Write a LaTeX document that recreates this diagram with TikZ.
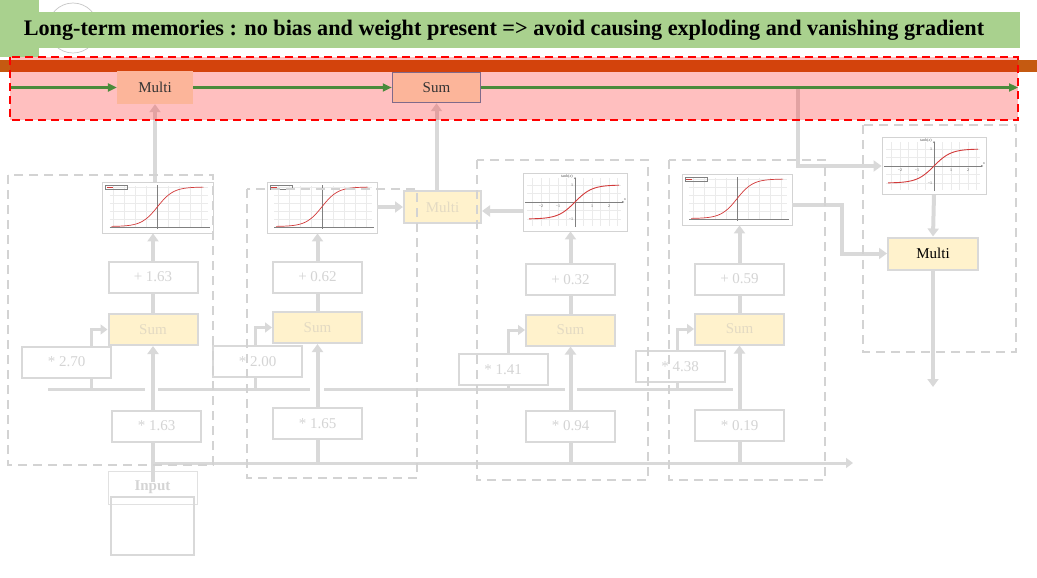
\documentclass[tikz,border=0pt]{standalone}
\usepackage{fontspec}
\setmainfont{Liberation Serif}
\usetikzlibrary{arrows.meta}
\pgfdeclarelayer{base}
\pgfdeclarelayer{pinkl}
\pgfsetlayers{base,pinkl,main}
\definecolor{titlegreen}{HTML}{A9D18E}
\definecolor{barorange}{HTML}{C55A11}
\definecolor{arrgreen}{HTML}{4A8B3C}
\definecolor{salmon}{HTML}{FCB59A}
\definecolor{sumborder}{HTML}{806A8A}
\definecolor{lgray}{HTML}{D9D9D9}
\definecolor{dgray}{HTML}{D3D3D3}
\definecolor{ltext}{HTML}{D4D4D4}
\definecolor{lyellow}{HTML}{FFF2CC}
\definecolor{ytext}{HTML}{E3DAC3}
\definecolor{curvered}{HTML}{D23A3A}
\definecolor{gridc}{HTML}{EBEBEB}
\definecolor{axisc}{HTML}{808080}

\newcommand{\sigmplot}[1]{%
\begin{scope}[shift={(#1.center)}]
 \foreach \gx in {-44,-33,-22,-11,11,22,33,44} \draw[plotgrid] (\gx,-22) -- (\gx,20);
 \foreach \gy in {-20,-12,-4,4,12} \draw[plotgrid] (-48,\gy) -- (50,\gy);
 \draw[plotaxis] (-48,20) -- (52,20);
 \draw[plotaxis] (0,21) -- (0,-23);
 \draw[curvered, line width=0.7pt] plot[domain=-46:46, samples=60, smooth] (\x,{19-39.5/(1+exp(-\x/8))});
 \draw[line width=0.3pt, draw=axisc] (-52,-22) rectangle (-30,-18);
 \draw[curvered, line width=0.5pt] (-51,-20) -- (-45,-20);
\end{scope}}

\newcommand{\tanhplot}[1]{%
\begin{scope}[shift={(#1.center)}]
 \foreach \gx in {-42.5,-34,-25.5,-17,-8.5,8.5,17,25.5,34,42.5} \draw[plotgrid] (\gx,-24) -- (\gx,24);
 \foreach \gy in {-17,-8.5,8.5,17} \draw[plotgrid] (-48,\gy) -- (46,\gy);
 \draw[plotaxis,-{Stealth[length=2pt,width=2pt]}] (-50,0) -- (49,0);
 \draw[plotaxis,-{Stealth[length=2pt,width=2pt]}] (0,25) -- (0,-25);
 \draw[curvered, line width=0.9pt] plot[domain=-46:44, samples=60, smooth] (\x,{-17*tanh(\x/17)});
 \node[tick] (#1t1) at (-34,4.5) {−2};
 \node[tick] (#1t2) at (-17,4.5) {−1};
 \node[tick] (#1t3) at (17,4.5) {1};
 \node[tick] (#1t4) at (34,4.5) {2};
 \node[tick] (#1t5) at (-3,-17) {1};
 \node[tick] (#1t6) at (-4,17) {−1};
 \node[tick] (#1t7) at (-8,-25) {tanh(\textit{x})};
 \node[tick] (#1t8) at (50,-2.5) {\textit{x}};
\end{scope}}

\begin{document}
\begin{tikzpicture}[x=1pt,y=-1pt,
  titletxt/.style={font=\fontsize{22.2}{24}\selectfont\bfseries, inner sep=0pt},
  topbox/.style={rectangle, fill=salmon, text=black!80, font=\fontsize{15}{15}\selectfont, inner sep=0pt, minimum width=76pt, minimum height=33pt},
  wbox/.style={rectangle, draw=lgray, line width=2pt, fill=white, text=ltext, font=\fontsize{15}{15}\selectfont, inner sep=0pt, minimum width=89pt, minimum height=31pt},
  sumbox/.style={wbox, fill=lyellow, text=ytext},
  plotbox/.style={rectangle, draw=dgray, line width=0.8pt, fill=white, inner sep=0pt},
  plotgrid/.style={draw=gridc, line width=0.4pt},
  plotaxis/.style={draw=axisc, line width=0.5pt},
  tick/.style={font=\fontsize{4}{4.5}\selectfont, inner sep=0pt, text=black!70},
  garrow/.style={draw=lgray, line width=4pt, -{Triangle[length=8pt,width=11pt]}},
  gline/.style={draw=lgray, line width=4pt},
  tarrow/.style={draw=lgray, line width=3pt, -{Triangle[length=7pt,width=10pt]}},
  tline/.style={draw=lgray, line width=3pt},
  dashbox/.style={draw=dgray, line width=2.5pt, dash pattern=on 9pt off 6pt},
  greenarrow/.style={draw=arrgreen, line width=2.5pt, -{Triangle[length=9pt,width=8pt]}}
]
\useasboundingbox (0,0) rectangle (1037,578);

% ---------- nodes ----------
\node[titletxt] (title) at (504,30) {Long-term memories : no bias and weight present => avoid causing exploding and vanishing gradient};

\node[topbox] (tmul) at (155,87.5) {Multi};
\node[topbox, draw=sumborder, line width=1.5pt, minimum width=88pt, minimum height=30pt] (tsum) at (436.5,87.5) {Sum};

\node[plotbox, minimum width=111pt, minimum height=51pt] (p1) at (157.5,207.5) {};
\node[plotbox, minimum width=110pt, minimum height=51pt] (p2) at (322,207.5) {};
\node[plotbox, minimum width=104pt, minimum height=58pt] (p3) at (575,202) {};
\node[plotbox, minimum width=110pt, minimum height=51pt] (p4) at (737,199.5) {};
\node[plotbox, minimum width=104pt, minimum height=57pt] (p5) at (934,166) {};
\sigmplot{p1}
\sigmplot{p2}
\tanhplot{p3}
\sigmplot{p4}
\tanhplot{p5}

\node[wbox] (a1) at (153,277) {+ 1.63};
\node[wbox] (a2) at (317.5,277) {+ 0.62};
\node[wbox] (a3) at (570.5,279.5) {+ 0.32};
\node[wbox] (a4) at (739.5,279) {+ 0.59};

\node[sumbox] (s1) at (153,329.5) {Sum};
\node[sumbox] (s2) at (317.5,327.5) {Sum};
\node[sumbox] (s3) at (570.5,330) {Sum};
\node[sumbox] (s4) at (739.5,329) {Sum};

\node[wbox] (w1) at (66.5,362) {* 2.70};
\node[wbox] (w2) at (257.5,361.5) {* 2.00};
\node[wbox] (w3) at (503,369.5) {* 1.41};
\node[wbox] (w4) at (680,366.5) {* 4.38};

\node[wbox] (i1) at (156.5,426) {* 1.63};
\node[wbox] (i2) at (317.5,423.5) {* 1.65};
\node[wbox] (i3) at (570.5,426) {* 0.94};
\node[wbox] (i4) at (739.5,425.5) {* 0.19};

\node[sumbox, minimum width=77pt, minimum height=32pt] (lmul) at (442.5,207) {Multi};
\node[sumbox, text=black, minimum width=90pt, minimum height=32pt] (rmul) at (933,253.5) {Multi};

\node[rectangle, draw=lgray!80, line width=0.8pt, text=ltext, font=\fontsize{15}{15}\selectfont\bfseries, inner sep=0pt, minimum width=89pt, minimum height=33pt] (inp) at (152.5,487.5) {Input};
\node[rectangle, draw=lgray, line width=2pt, inner sep=0pt, minimum width=83pt, minimum height=58pt] (inbox) at (152.5,526) {};

% ---------- base layer ----------
\begin{pgfonlayer}{base}
 \draw[draw=black!22, fill=white, line width=0.7pt] (73,28) circle[radius=25pt];
 \fill[titlegreen] (0,12) rectangle (1020,48);
 \fill[titlegreen] (0,0) rectangle (39,57);
 \fill[barorange] (0,60) rectangle (1037,72);
 \draw[garrow] (p1.north -| tmul) -- (tmul.south);
 \draw[garrow] (lmul.north -| tsum) -- (tsum.south);
 \coordinate (tap) at (798,87.5);
 \draw[gline] (tap) |- ([xshift=-6pt]p5.west);
 \draw[garrow] ([xshift=-8pt]p5.west) -- (p5.west);
\end{pgfonlayer}
\begin{pgfonlayer}{pinkl}
 \fill[red, opacity=0.25] (10,57) rectangle (1018,120);
\end{pgfonlayer}

% ---------- long-term memory line ----------
\coordinate (gS) at (10,87.5);
\coordinate (gE) at (1018,87.5);
\draw[greenarrow] (gS) -- (tmul.west);
\draw[greenarrow] (tmul.east) -- (tsum.west);
\draw[greenarrow] (tsum.east) -- (gE);

% ---------- lower connectors ----------
\foreach \k in {1,2,3,4}{
  \draw[gline] (s\k.north) -- (a\k.south);
  \draw[garrow] (a\k.north) -- (a\k.north |- p\k.south);
}
\draw[garrow] (i1.north -| s1) -- (s1.south);
\draw[garrow] (i2.north) -- (s2.south);
\draw[garrow] (i3.north) -- (s3.south);
\draw[garrow] (i4.north) -- (s4.south);

\coordinate (inlineS) at (153,463);
\coordinate (inlineE) at (853,463);
\coordinate (inpt) at (153,482);
\draw[tarrow] (inlineS) -- (inlineE);
\draw[gline] (inpt) -- (inpt |- i1.south);
\draw[gline] (i2.south |- inlineS) -- (i2.south);
\draw[gline] (i3.south |- inlineS) -- (i3.south);
\draw[gline] (i4.south |- inlineS) -- (i4.south);

% short-term memory line with crossings
\coordinate (m0) at (48,389);   \coordinate (m1) at (145,389);
\coordinate (m2) at (158,389);  \coordinate (m3) at (310,389);
\coordinate (m4) at (324,389);  \coordinate (m5) at (565,389);
\coordinate (m6) at (577,389);  \coordinate (m7) at (733,389);
\draw[tline] (m0) -- (m1);
\draw[tline] (m2) -- (m3);
\draw[tline] (m4) -- (m5);
\draw[tline] (m6) -- (m7);

\coordinate (w1b) at ([xshift=24.5pt]w1.south); \coordinate (w1t) at ([xshift=24.5pt]w1.north);
\coordinate (w2b) at ([xshift=-2.5pt]w2.south); \coordinate (w2t) at ([xshift=-2.5pt]w2.north);
\coordinate (w3b) at ([xshift=5pt]w3.south);    \coordinate (w3t) at ([xshift=5pt]w3.north);
\coordinate (w4b) at ([xshift=-3pt]w4.south);   \coordinate (w4t) at ([xshift=-3pt]w4.north);
\foreach \k in {1,2,3,4}{
  \draw[tline] (w\k b) -- (w\k b |- m0);
  \draw[tarrow] (w\k t) |- (s\k.west);
}

\draw[garrow] (p2.east |- lmul.west) -- (lmul.west);
\coordinate (p3a) at ([yshift=-9pt]p3.west);
\draw[garrow] (p3a) -- (p3a -| lmul.east);
\coordinate (p4a) at ([yshift=-5.5pt]p4.east);
\draw[garrow] (p4a) -- ++(50,0) |- (rmul.west);
\draw[garrow] (p5.south) -- (rmul.north);
\coordinate (outE) at (933,387);
\draw[garrow] (rmul.south) -- (outE);

% ---------- dashed groups ----------
\draw[dashbox] (8,175) rectangle (213,465);
\draw[dashbox] (247,189) rectangle (417,478);
\draw[dashbox] (477,160) rectangle (648,480);
\draw[dashbox] (669,160) rectangle (825,480);
\draw[dashbox] (863,125) rectangle (1016,352);

% ---------- red dashed frame ----------
\draw[draw=red, line width=2pt, dash pattern=on 8pt off 5pt] (10,57) rectangle (1018,120);
\end{tikzpicture}
\end{document}
